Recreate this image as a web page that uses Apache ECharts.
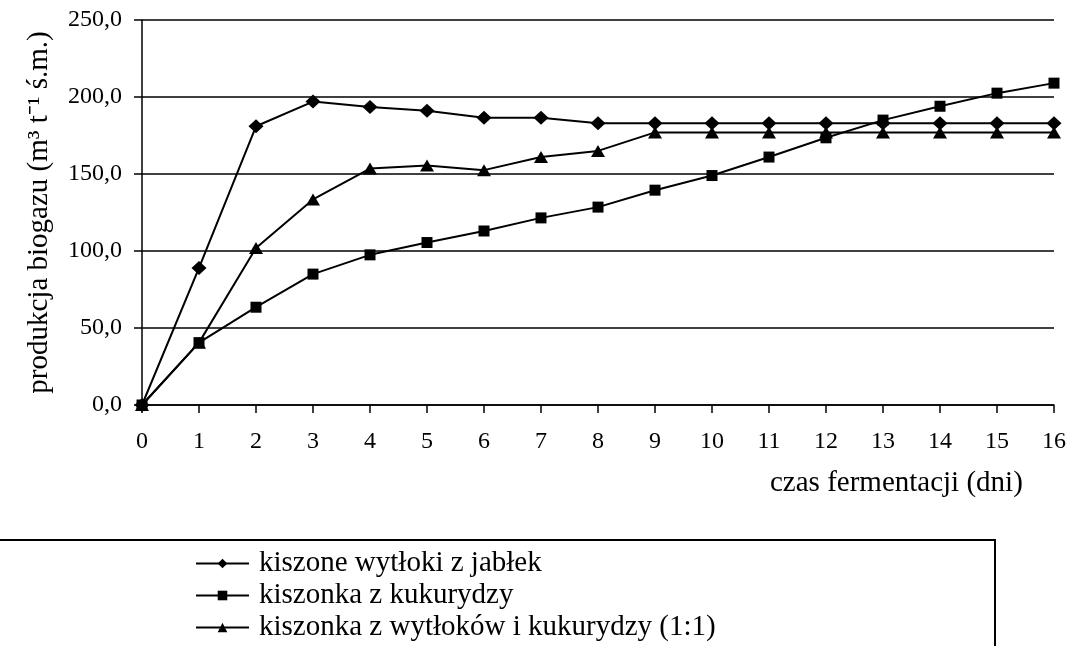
<!DOCTYPE html>
<html>
	<head>
		<meta charset="utf-8" />
		<title>produkcja biogazu</title>
		<style>
			html, body {
				width: 100%;
				height: 100%;
				margin: 0;
				padding: 0;
				background: #fff;
			}
			#main {
				width: 1069px;
				height: 646px;
			}
		</style>
	</head>
	<body>
		<div id="main"></div>
		<script src="https://cdn.jsdelivr.net/npm/echarts@6/dist/echarts.min.js"></script>
		<script>
			var dni = ['0', '1', '2', '3', '4', '5', '6', '7', '8', '9', '10', '11', '12', '13', '14', '15', '16'];
			var jablka = [0, 89, 181, 197, 193.5, 191, 186.5, 186.5, 183, 183, 183, 183, 183, 183, 183, 183, 183];
			var kukurydza = [0, 40.5, 63.5, 85, 97.5, 105.5, 113, 121.5, 128.5, 139.5, 149, 161, 173.5, 185, 194, 202.5, 209];
			var mieszanka = [0, 40.5, 102, 133.5, 153.5, 155.5, 152.5, 161, 165, 177, 177, 177, 177, 177, 177, 177, 177];
			var nazwy = ['kiszone wytłoki z jabłek', 'kiszonka z kukurydzy', 'kiszonka z wytłoków i kukurydzy (1:1)'];

			var font = 'Liberation Serif';
			var seria = function (name, data, symbol, size) {
				return {
					name: name,
					type: 'line',
					data: data,
					symbol: symbol,
					symbolSize: size,
					animation: false,
					lineStyle: { color: '#000', width: 2 },
					itemStyle: { color: '#000' }
				};
			};

			var chart = echarts.init(document.getElementById('main'), null, { renderer: 'canvas' });
			chart.setOption({
				backgroundColor: '#fff',
				textStyle: { fontFamily: font, color: '#000' },
				grid: { left: 142, right: 14, top: 20, bottom: 241 },
				xAxis: {
					type: 'category',
					data: dni,
					boundaryGap: false,
					axisLine: { lineStyle: { color: '#000', width: 1.5 } },
					axisTick: { length: 8, lineStyle: { color: '#000', width: 1.5 } },
					axisLabel: { color: '#000', fontFamily: font, fontSize: 24, margin: 25 }
				},
				yAxis: {
					type: 'value',
					min: 0,
					max: 250,
					interval: 50,
					name: 'produkcja biogazu (m³ t⁻¹ ś.m.)',
					nameLocation: 'middle',
					nameRotate: 90,
					nameGap: 88,
					nameTextStyle: { color: '#000', fontFamily: font, fontSize: 29 },
					axisLine: { show: true, lineStyle: { color: '#000', width: 1.5 } },
					axisTick: { show: true, length: 8, lineStyle: { color: '#000', width: 1.5 } },
					splitLine: { lineStyle: { color: '#000', width: 1.5 } },
					axisLabel: {
						color: '#000', fontFamily: font, fontSize: 24, margin: 20,
						formatter: function (v) { return v.toFixed(1).replace('.', ','); }
					}
				},
				legend: {
					orient: 'vertical',
					left: 195,
					top: 549,
					height: 97,
					data: nazwy,
					itemWidth: 53,
					itemHeight: 12,
					itemGap: 3,
					padding: 0,
					textStyle: { color: '#000', fontFamily: font, fontSize: 29, padding: [0, 0, 0, 5] }
				},
				graphic: [{
					type: 'text',
					left: 770,
					top: 469,
					style: { text: 'czas fermentacji (dni)', font: '29px "Liberation Serif"', fill: '#000' }
				}, {
					type: 'rect',
					shape: { x: -2, y: 540, width: 997, height: 200 },
					style: { fill: null, stroke: '#000', lineWidth: 2 }
				}],
				series: [
					seria(nazwy[0], jablka, 'diamond', [15, 14]),
					seria(nazwy[1], kukurydza, 'rect', 11),
					seria(nazwy[2], mieszanka, 'triangle', [14, 12])
				]
			});
		</script>
	</body>
</html>
